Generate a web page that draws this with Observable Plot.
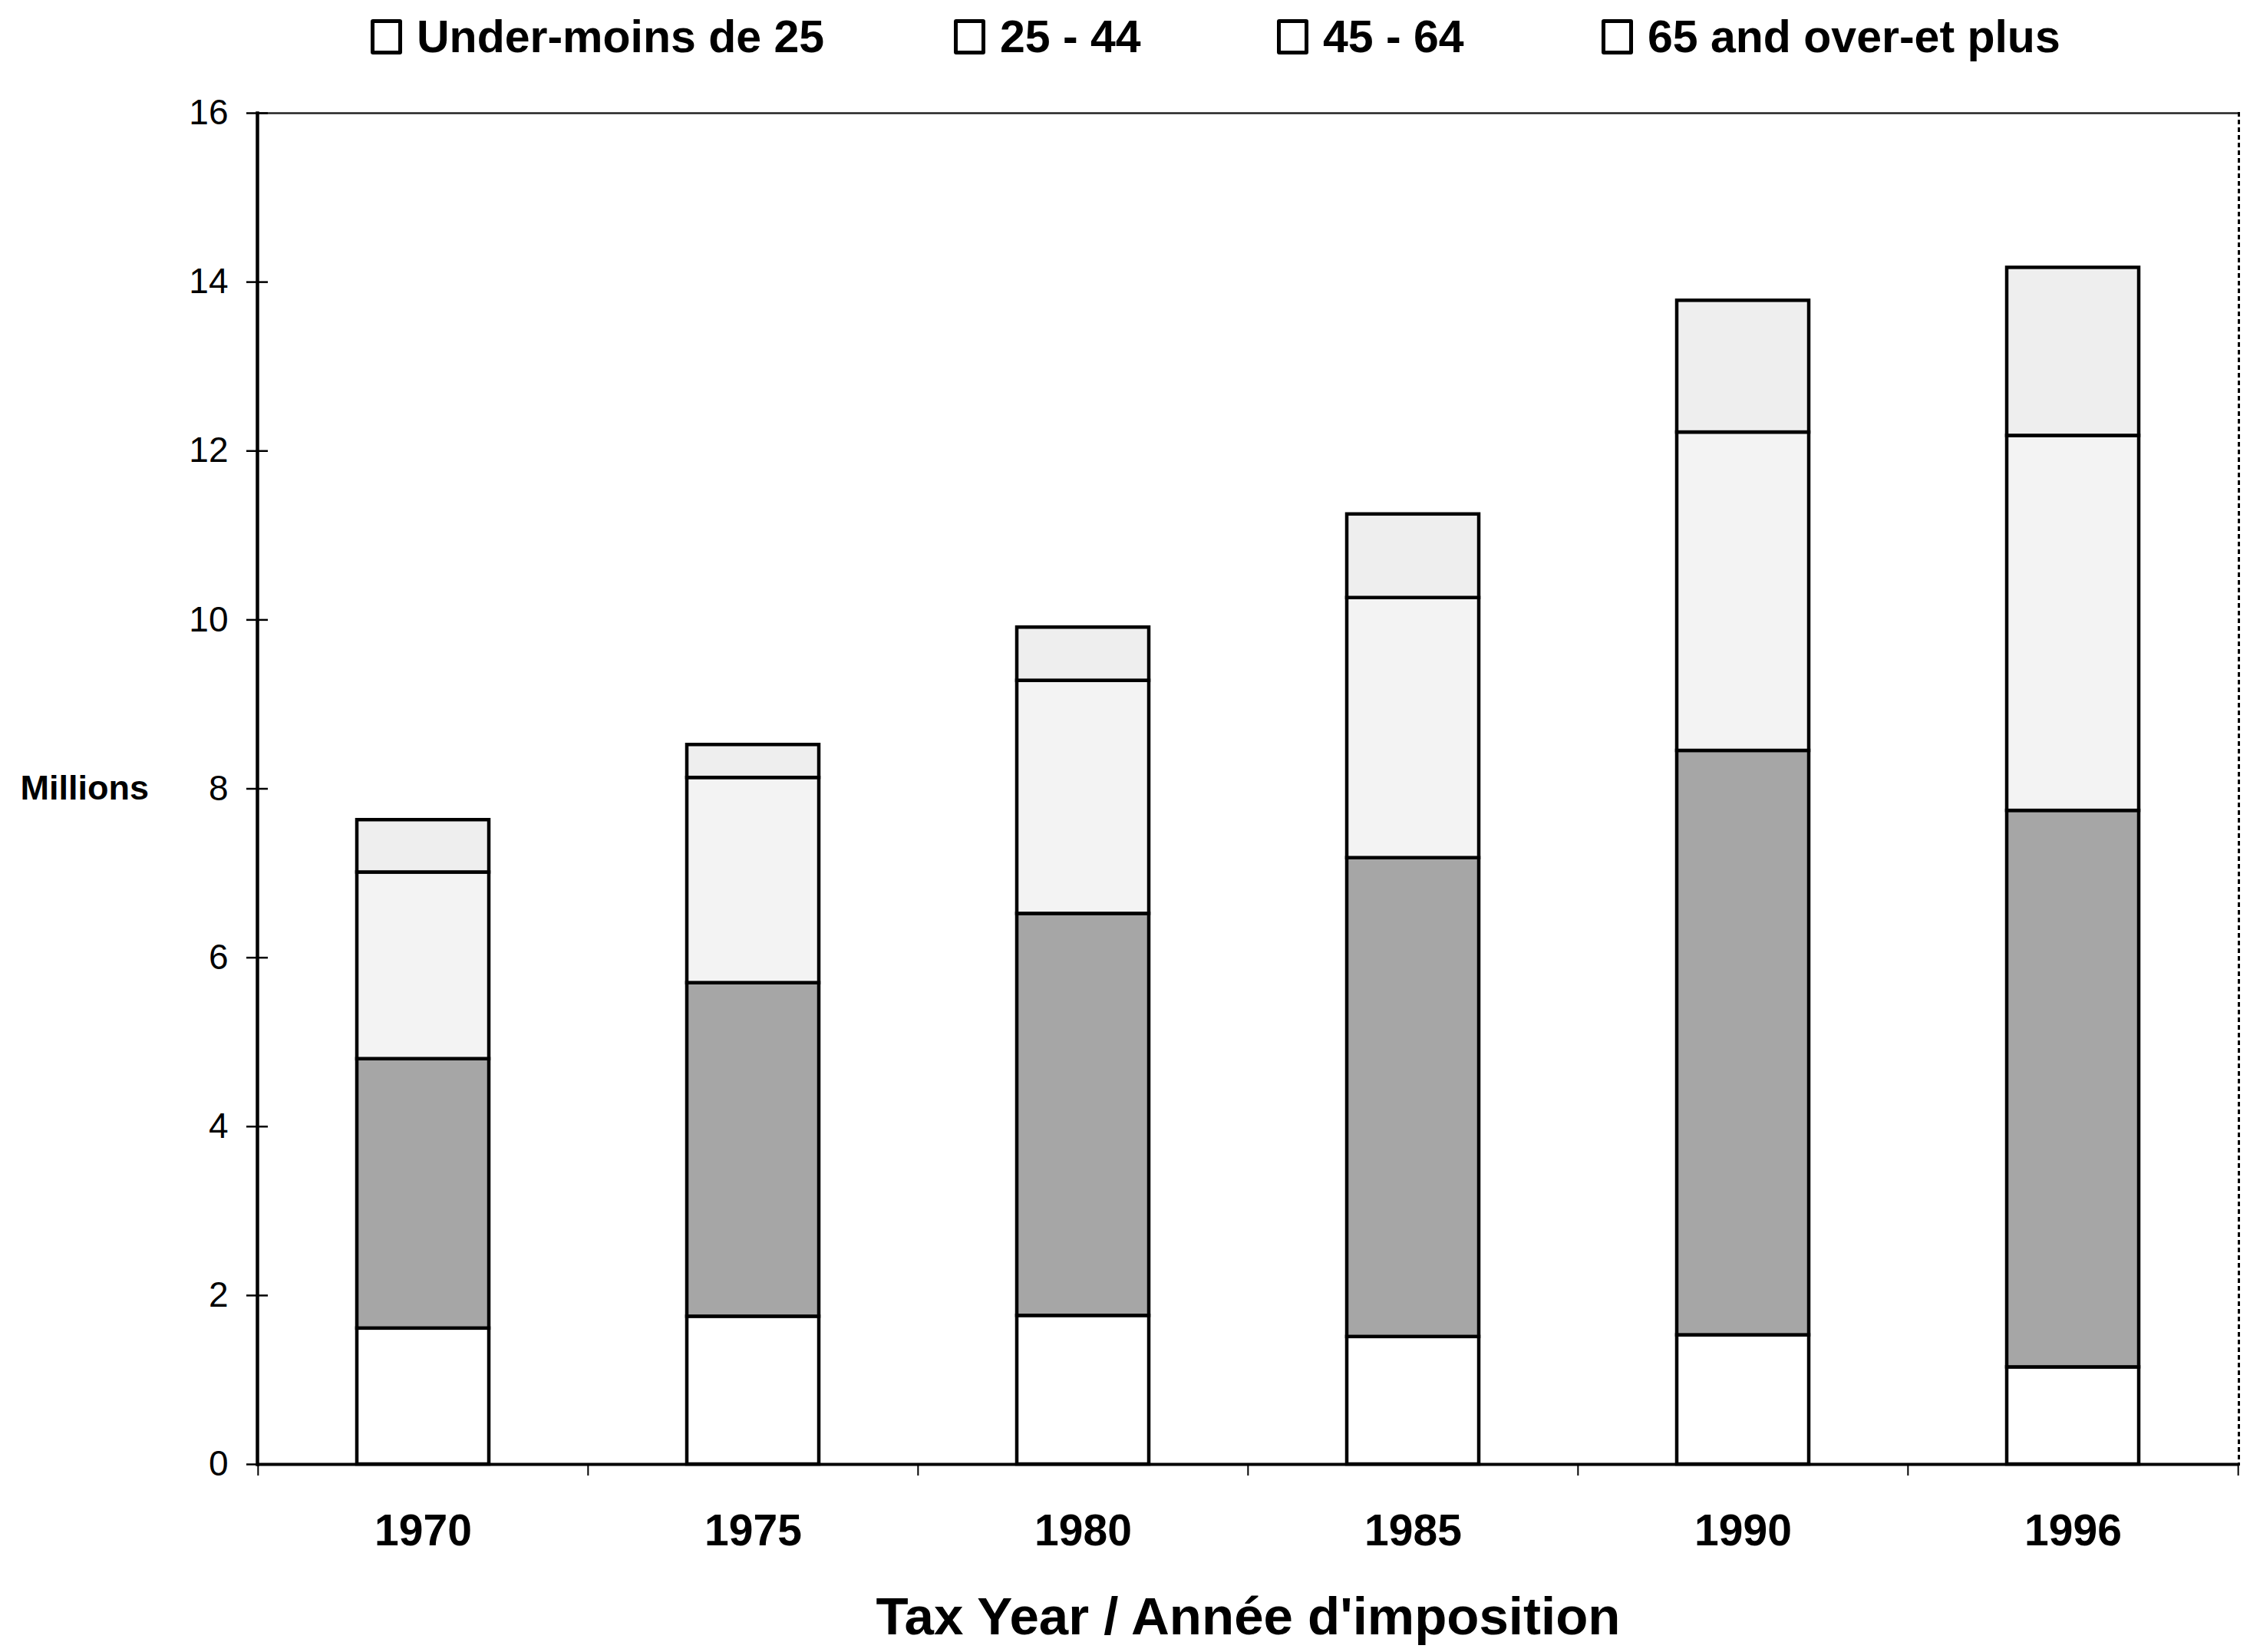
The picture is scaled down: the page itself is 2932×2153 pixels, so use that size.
<!DOCTYPE html>
<html>
<head>
<meta charset="utf-8">
<script src="https://cdn.jsdelivr.net/npm/d3@7"></script>
<script src="https://cdn.jsdelivr.net/npm/@observablehq/plot@0.6"></script>
<style>
  html, body { margin: 0; padding: 0; background: #fff; }
  body { width: 2932px; height: 2153px; overflow: hidden; font-family: "Liberation Sans", Arial, Helvetica, sans-serif; color: #000; }
  #legend { position: relative; height: 100px; }
  .item { position: absolute; top: 0; height: 96px; display: flex; align-items: center; font-weight: bold; font-size: 59px; white-space: nowrap; }
  .box { width: 41px; height: 46px; border: 5px solid #000; border-radius: 3px; box-sizing: border-box; margin-right: 19px; }
  #chart svg { display: block; }
</style>
</head>
<body>
<div id="legend"></div>
<div id="chart"></div>
<script>
// ---- data (millions of taxfilers) ----
const years = ["1970", "1975", "1980", "1985", "1990", "1996"];
const seriesNames = ["Under-moins de 25", "25 - 44", "45 - 64", "65 and over-et plus"];
const under25   = [1.61, 1.75, 1.76, 1.51, 1.53, 1.15];
const age25to44 = [3.19, 3.95, 4.76, 5.67, 6.92, 6.59];
const age45to64 = [2.21, 2.43, 2.76, 3.08, 3.77, 4.44];
const age65plus = [0.62, 0.39, 0.63, 0.99, 1.56, 1.99];
const yTicks = [0, 2, 4, 6, 8, 10, 12, 14, 16];
const xTitle = "Tax Year / Année d'imposition";
const yTitle = "Millions";

// ---- styling ----
const fills = ["#ffffff", "#a6a6a6", "#f3f3f3", "#eeeeee"];
const legendBoxFill = "#ffffff";
const legendLeft = [483, 1243, 1664, 2087];

const seriesValues = [under25, age25to44, age45to64, age65plus];
const rows = [];
years.forEach((yr, i) => {
  seriesNames.forEach((s, j) => rows.push({year: yr, series: s, value: seriesValues[j][i]}));
});

// legend
const legend = document.getElementById("legend");
seriesNames.forEach((s, j) => {
  const it = document.createElement("div");
  it.className = "item";
  it.style.left = legendLeft[j] + "px";
  const b = document.createElement("span");
  b.className = "box";
  b.style.background = legendBoxFill;
  const t = document.createElement("span");
  t.textContent = s;
  it.appendChild(b); it.appendChild(t);
  legend.appendChild(it);
});

const W = 2932, H = 2053, mL = 335, mR = 15, mT = 47, mB = 245;
const step = (W - mL - mR) / years.length;

const chart = Plot.plot({
  width: W, height: H,
  marginTop: mT, marginBottom: mB, marginLeft: mL, marginRight: mR,
  style: {fontFamily: "Liberation Sans, Arial, Helvetica, sans-serif", background: "#fff", color: "#000", overflow: "visible"},
  x: {domain: years, paddingInner: 0.6, paddingOuter: 0.3, label: null},
  y: {domain: [0, 16], label: null},
  color: {domain: seriesNames, range: fills},
  marks: [
    Plot.barY(rows, {x: "year", y: "value", fill: "series", order: seriesNames, stroke: "#000", strokeWidth: 4.5}),
    Plot.ruleY([0], {stroke: "#000", strokeWidth: 4}),
    Plot.ruleY([16], {stroke: "#222", strokeWidth: 2.5}),
    Plot.frame({anchor: "left", stroke: "#000", strokeWidth: 4.5}),
    Plot.frame({anchor: "right", stroke: "#000", strokeWidth: 3, strokeDasharray: "3,7"}),
    Plot.axisY({ticks: yTicks, tickSize: 28, dx: 14, text: null, strokeWidth: 2.5}),
    Plot.axisY({ticks: yTicks, tickSize: 0, tickPadding: 38, fontSize: 46, tickFormat: d => String(d), label: null}),
    Plot.axisX({ticks: years, tickSize: 15, dx: -step / 2, text: null, strokeWidth: 2, label: null}),
    Plot.axisX({ticks: [years[years.length - 1]], tickSize: 15, dx: step / 2, text: null, strokeWidth: 2, label: null}),
    Plot.axisX({ticks: years, tickSize: 0, tickPadding: 65, fontSize: 57, fontWeight: "bold", label: null}),
    Plot.text([xTitle], {frameAnchor: "bottom", dy: 199, fontSize: 69, fontWeight: "bold", lineAnchor: "middle"}),
    Plot.text([yTitle], {frameAnchor: "left", dx: -309, textAnchor: "start", fontSize: 45, fontWeight: "bold"})
  ]
});
document.getElementById("chart").appendChild(chart);
</script>
</body>
</html>
